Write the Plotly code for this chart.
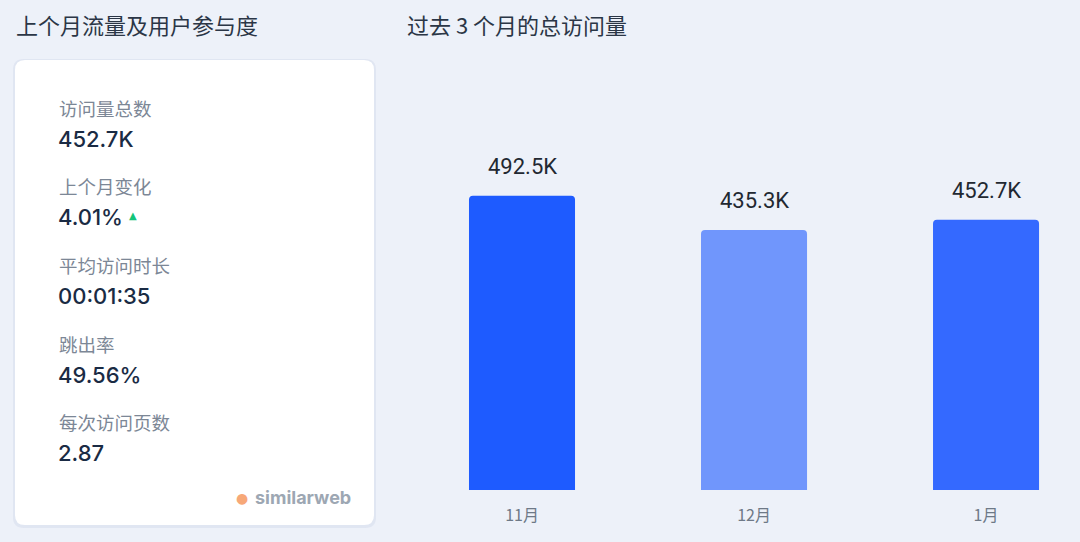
import plotly.graph_objects as go

W, H = 1080, 542

# data
months = ["11月", "12月", "1月"]
visits_k = [492.5, 435.3, 452.7]
visit_labels = ["492.5K", "435.3K", "452.7K"]
bar_colors = ["#1E5BFF", "#7096FC", "#3469FF"]

metric_names = ["访问量总数", "上个月变化", "平均访问时长", "跳出率", "每次访问页数"]
metric_values = ["452.7K", "4.01%", "00:01:35", "49.56%", "2.87"]

CJK = "Noto Sans CJK SC"
NUM = "Inter, Noto Sans CJK SC"


def px(x):
    return x / W


def py(y):
    return 1 - y / H


def rounded_rect(x0, y0, x1, y1, r):
    # pixel box -> paper path with rounded corners
    rx, ry = r / W, r / H
    a, b, c, d = px(x0), py(y0), px(x1), py(y1)
    return (f"M{a + rx},{b} L{c - rx},{b} Q{c},{b} {c},{b - ry} "
            f"L{c},{d + ry} Q{c},{d} {c - rx},{d} L{a + rx},{d} "
            f"Q{a},{d} {a},{d + ry} L{a},{b - ry} Q{a},{b} {a + rx},{b} Z")


fig = go.Figure()

fig.add_trace(go.Bar(
    x=list(range(len(months))),
    y=visits_k,
    width=0.457,
    marker=dict(color=bar_colors, cornerradius=4, line=dict(width=0)),
    hoverinfo="skip",
))

annotations = []
# value labels over bars
for i, (v, lab) in enumerate(zip(visits_k, visit_labels)):
    annotations.append(dict(
        x=i, y=v, xref="x", yref="y", text=lab, showarrow=False,
        yanchor="bottom", yshift=15,
        font=dict(family="Roboto, Noto Sans CJK SC", size=22, color="#222831"),
    ))

# titles
annotations.append(dict(x=px(14), y=py(24), xref="paper", yref="paper",
                        text="上个月流量及用户参与度", showarrow=False,
                        xanchor="left", yanchor="middle",
                        font=dict(family=CJK, size=22, color="#2B3646")))
annotations.append(dict(x=px(405), y=py(24), xref="paper", yref="paper",
                        text="过去 3 个月的总访问量", showarrow=False,
                        xanchor="left", yanchor="middle",
                        font=dict(family=CJK, size=22, color="#2B3646")))

# card metrics
for k, (name, val) in enumerate(zip(metric_names, metric_values)):
    y_lab = 108 + 78.5 * k
    annotations.append(dict(x=px(57), y=py(y_lab), xref="paper", yref="paper",
                            text=name, showarrow=False, xanchor="left", yanchor="middle",
                            font=dict(family=CJK, size=18.5, color="#7C8796")))
    annotations.append(dict(x=px(56), y=py(y_lab + 31), xref="paper", yref="paper",
                            text=val, showarrow=False, xanchor="left", yanchor="middle",
                            font=dict(family=NUM, size=22, color="#1A2B44", weight=500)))

# green up arrow for change
annotations.append(dict(x=px(133), y=py(215), xref="paper", yref="paper",
                        text="▲", showarrow=False, xanchor="center", yanchor="middle",
                        font=dict(family="DejaVu Sans", size=10, color="#14C47A")))

# similarweb logo
annotations.append(dict(x=px(242), y=py(498), xref="paper", yref="paper",
                        text="●", showarrow=False, xanchor="center", yanchor="middle",
                        font=dict(family="DejaVu Sans", size=14, color="#F7A878")))
annotations.append(dict(x=px(353), y=py(497), xref="paper", yref="paper",
                        text="<b>similarweb</b>", showarrow=False, xanchor="right", yanchor="middle",
                        font=dict(family="Inter, Open Sans", size=18, color="#9DA7B3")))

shapes = [
    # card shadow and card
    dict(type="path", xref="paper", yref="paper", layer="below",
         path=rounded_rect(13, 59, 376, 528, 11), fillcolor="rgba(200,210,230,0.35)",
         line=dict(width=0)),
    dict(type="path", xref="paper", yref="paper", layer="below",
         path=rounded_rect(15, 60, 374, 525, 10), fillcolor="#FFFFFF",
         line=dict(width=0)),
]

fig.update_layout(
    width=W, height=H,
    margin=dict(l=0, r=0, t=0, b=0),
    paper_bgcolor="#EDF1F9",
    plot_bgcolor="rgba(0,0,0,0)",
    showlegend=False,
    xaxis=dict(
        domain=[px(406), 1],
        range=[-0.5, 2.405],
        tickmode="array",
        tickvals=list(range(len(months))),
        ticktext=months,
        showgrid=False, zeroline=False, showline=False,
        ticks="", ticklabelstandoff=14,
        tickfont=dict(family=CJK, size=16, color="#6E7987"),
        fixedrange=True,
    ),
    yaxis=dict(
        domain=[1 - 490 / H, 1 - 60 / H],
        range=[0, 720],
        visible=False,
        fixedrange=True,
    ),
    annotations=annotations,
    shapes=shapes,
)

fig.write_html("out.html", config={"displayModeBar": False},
               post_script="document.body.style.margin='0';document.body.style.padding='0';")
